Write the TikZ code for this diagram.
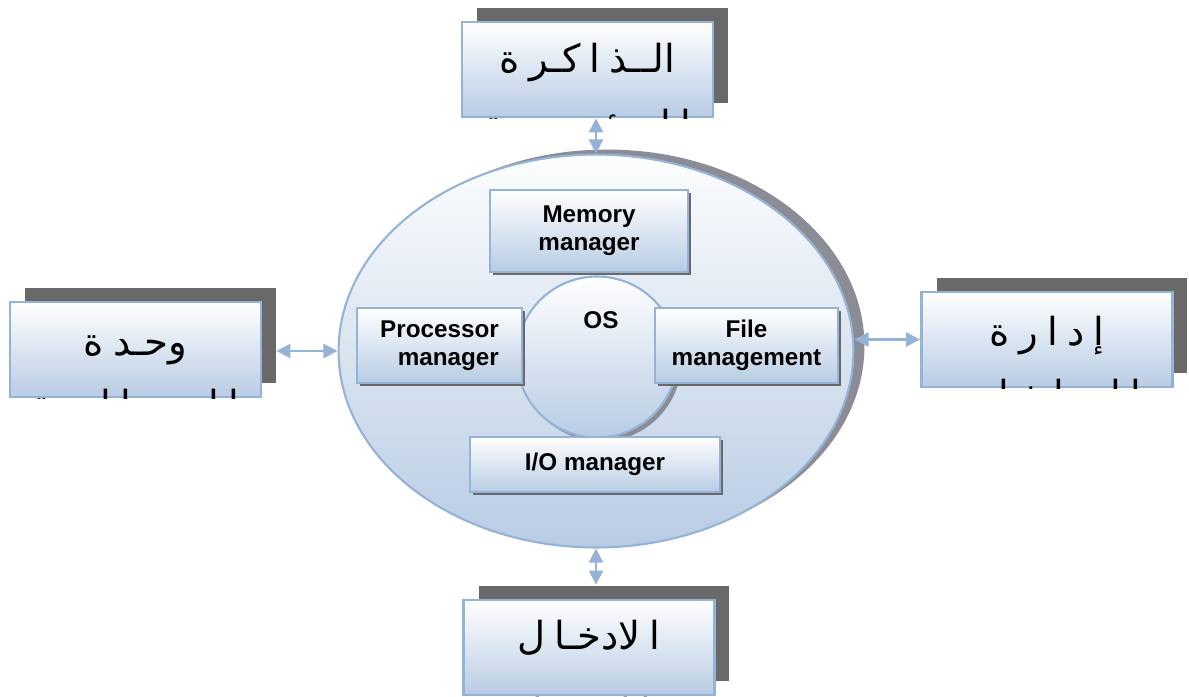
\documentclass[tikz,border=0pt]{standalone}
\usepackage{fontspec}
\setmainfont{Liberation Sans}
\newfontfamily\arabicfont[Script=Arabic, WordSpace=0.75]{DejaVu Sans}
\TeXXeTstate=1
\usepackage{tikz}
\usetikzlibrary{shapes.geometric, arrows.meta, positioning, calc, shadows}
\definecolor{boxline}{RGB}{149,179,215}
\definecolor{boxfill}{RGB}{184,204,228}
\definecolor{shadowdark}{RGB}{105,105,105}
\definecolor{shadowlight}{RGB}{140,140,150}
\tikzset{
  unitbox/.style={rectangle, draw=boxline, line width=1.6pt,
    top color=white, bottom color=boxfill,
    minimum width=5.02cm, minimum height=1.9cm,
    drop shadow={shadow xshift=0.3cm, shadow yshift=0.28cm, fill=shadowdark, opacity=1}},
  mgrbox/.style={rectangle, draw=boxline, line width=1.4pt,
    top color=white, bottom color=boxfill, align=center,
    font=\bfseries\fontsize{13.8}{16}\selectfont,
    drop shadow={shadow xshift=0.06cm, shadow yshift=-0.06cm, fill=shadowdark, opacity=1}},
  osring/.style={ellipse, draw=boxline, line width=1.2pt,
    top color=white!96!boxfill, bottom color=boxfill,
    minimum width=10.3cm, minimum height=7.86cm,
    drop shadow={shadow xshift=0.22cm, shadow yshift=0.1cm, fill=shadowlight, opacity=1}},
  osdisk/.style={circle, draw=boxline, line width=1.2pt,
    top color=white, bottom color=boxfill, minimum size=3.22cm,
    drop shadow={shadow xshift=0.08cm, shadow yshift=-0.08cm, fill=shadowlight, opacity=1}},
  arlbl/.style={font=\arabicfont\fontsize{22}{26}\selectfont, anchor=base, inner sep=0pt},
  lbl/.style={font=\bfseries\fontsize{13.8}{16}\selectfont},
  arrow/.style={<->, >={Triangle[length=8pt,width=8pt]}, draw=boxline, line width=1.4pt}
}

\begin{document}
\begin{tikzpicture}[x=0.02cm, y=-0.02cm]
  \useasboundingbox (0,0) rectangle (1189,696);

  % operating system
  \node[osring] (ring) at (596,351) {};
  \node[osdisk] (disk) at (597,357) {};
  \node[lbl] (oslbl) at (601,320) {OS};

  \node[mgrbox, minimum width=3.96cm, minimum height=1.64cm] (memmgr) at (589,231) {Memory\\manager};
  \node[mgrbox, minimum width=3.3cm, minimum height=1.5cm, align=right, xshift=4pt] (procmgr) at (432.5,345.5) {Processor\\manager};
  \node[mgrbox, minimum width=3.66cm, minimum height=1.5cm] (filemgr) at (746.5,345.5) {File\\management};
  \node[mgrbox, minimum width=5cm, minimum height=1.1cm] (iomgr) at (595,464.5) {I/O manager};

  % outer units
  \node[unitbox] (memunit) at (587.5,69.5) {};
  \node[unitbox] (cpuunit) at (135.5,349.5) {};
  \node[unitbox] (fileunit) at (1047,339.5) {};
  \node[unitbox] (iounit) at (589,647.5) {};

  \node[arlbl] (memtxt) at ($(memunit.center)+(0,3)$) {\beginR الــذ ا كـر ة\endR};
  \node[arlbl] (cputxt) at ($(cpuunit.center)+(0,6)$) {\beginR وحـد ة\endR};
  \node[arlbl] (filetxt) at ($(fileunit.center)+(0,6)$) {\beginR إ د ا ر ة\endR};
  \node[arlbl] (iotxt) at ($(iounit.center)+(0,2)$) {\beginR ا لادخـا ل\endR};

  % second lines, cut by the boxes
  \begin{scope}
    \clip (memunit.south west) rectangle (memunit.north east);
    \node[arlbl] (memsub) at ($(memunit.south)+(0,20)$) {\beginR ا لـر ئـيـسـيـة\endR};
  \end{scope}
  \begin{scope}
    \clip (cpuunit.south west) rectangle (cpuunit.north east);
    \node[arlbl] (cpusub) at ($(cpuunit.south)+(0,20)$) {\beginR ا لـمـعـا لـجـة\endR};
  \end{scope}
  \begin{scope}
    \clip (fileunit.south west) rectangle (fileunit.north east);
    \node[arlbl] (filesub) at ($(fileunit.south)+(0,20)$) {\beginR ا لـمـلـفـا ت\endR};
  \end{scope}
  \begin{scope}
    \clip (iounit.south west) rectangle (iounit.north east);
    \node[arlbl] (iosub) at ($(iounit.south)+(0,30)$) {\beginR و ا لاخـر ا ج\endR};
  \end{scope}

  % links
  \draw[arrow] (ring.north) -- (ring.north |- memunit.south);
  \draw[arrow] ($(cpuunit.east |- ring.west)+(14,0)$) -- (ring.west);
  \draw[arrow] (fileunit.west -| ring.east) -- (fileunit.west);
  \draw[arrow] (ring.south) -- ($(iounit.north -| ring.south)+(0,-14)$);
\end{tikzpicture}
\end{document}
